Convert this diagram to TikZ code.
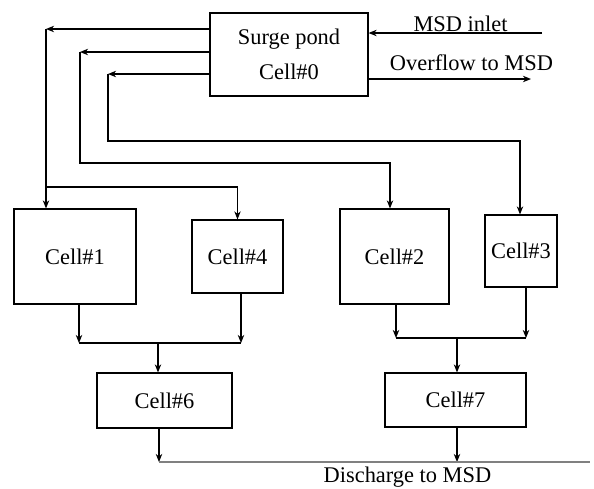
\documentclass[tikz,border=0pt]{standalone}
\usepackage{fontspec}
\setmainfont{Liberation Serif}
\usetikzlibrary{shapes,arrows,arrows.meta,positioning}

\begin{document}
\begin{tikzpicture}[
    x=0.5pt, y=-0.5pt,
    >={Stealth[length=4pt, width=3.2pt, inset=1.2pt]},
    cell/.style={draw, line width=0.6pt, align=center, inner sep=0pt,
                 font=\fontsize{11.2}{17.5}\selectfont},
    flow/.style={draw, line width=0.6pt},
    note/.style={font=\fontsize{11.2}{13}\selectfont, inner sep=0pt, anchor=base}
]
\useasboundingbox (0,0) rectangle (594,488);

% Cells
\node[cell, minimum width=79pt, minimum height=41.5pt] (pond) at (289,54.5) {Surge pond\\Cell\#0};
\node[cell, minimum width=61pt, minimum height=47.5pt] (cell1) at (75,256.5) {Cell\#1};
\node[cell, minimum width=45.5pt, minimum height=36.5pt] (cell4) at (237.5,256.5) {Cell\#4};
\node[cell, minimum width=54.5pt, minimum height=47.5pt] (cell2) at (394.5,256.5) {Cell\#2};
\node[cell, minimum width=36pt, minimum height=36pt] (cell3) at (521,251) {Cell\#3};
\node[cell, minimum width=67.5pt, minimum height=27.5pt] (cell6) at (164.5,400.5) {Cell\#6};
\node[cell, minimum width=70.5pt, minimum height=27pt] (cell7) at (455.5,400) {Cell\#7};

% Inlet and overflow
\coordinate (inlet) at (542,33);
\coordinate (overflow) at (531,79);
\draw[flow,->] (inlet) -- (inlet -| pond.east);
\draw[flow,->] (pond.east |- overflow) -- (overflow);
\node[note] (inlet label) at (460.5,31) {MSD inlet};
\node[note] (overflow label) at (471.5,70) {Overflow to MSD};

% Feeds from the pond
\coordinate (t1) at (46,29);
\coordinate (t2) at (80,52);
\coordinate (t3) at (108,74);
\coordinate (b4) at (46,187);
\coordinate (a2) at (390,163);
\coordinate (a3) at (520,141);
\draw[flow,->] (pond.west |- t1) -- (t1);
\draw[flow,->] (t1) -- (t1 |- cell1.north);
\draw[flow,->] (b4) -| (cell4);
\draw[flow,->] (pond.west |- t2) -- (t2);
\draw[flow,->] (t2) |- (a2) -- (a2 |- cell2.north);
\draw[flow,->] (pond.west |- t3) -- (t3);
\draw[flow,->] (t3) |- (a3) -- (a3 |- cell3.north);

% Cell#1 + Cell#4 -> Cell#6
\coordinate (m1) at (79,343);
\coordinate (m4) at (241,343);
\coordinate (j6) at (158,343);
\draw[flow,->] (cell1.south -| m1) -- (m1);
\draw[flow,->] (cell4.south -| m4) -- (m4);
\draw[flow] (m1) -- (m4);
\draw[flow,->] (j6) -- (j6 |- cell6.north);

% Cell#2 + Cell#3 -> Cell#7
\coordinate (m2) at (396,338);
\coordinate (m3) at (526,338);
\coordinate (j7) at (457,338);
\draw[flow,->] (cell2.south -| m2) -- (m2);
\draw[flow,->] (cell3.south -| m3) -- (m3);
\draw[flow] (m2) -- (m3);
\draw[flow,->] (j7) -- (j7 |- cell7.north);

% Discharge
\coordinate (d6) at (159,462);
\coordinate (d7) at (457,462);
\coordinate (dend) at (590,462);
\draw[flow,->] (cell6.south -| d6) -- (d6);
\draw[flow,->] (cell7.south -| d7) -- (d7);
\draw[flow, gray] (d6) -- (dend);
\node[note] (discharge label) at (407.5,482) {Discharge to MSD};

\end{tikzpicture}
\end{document}
